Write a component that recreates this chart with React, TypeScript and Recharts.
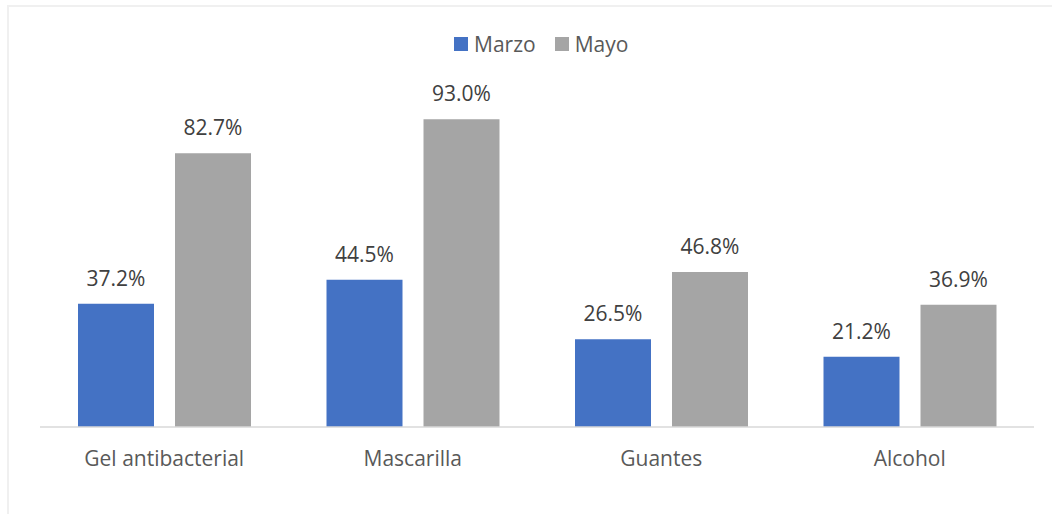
import React from 'react';
import { BarChart, Bar, XAxis, YAxis, Legend, LabelList } from 'recharts';

const categories = ['Gel antibacterial', 'Mascarilla', 'Guantes', 'Alcohol'];
const marzo = [37.2, 44.5, 26.5, 21.2];
const mayo = [82.7, 93.0, 46.8, 36.9];

const FONT = '"Open Sans", sans-serif';

const chartData = categories.map((name, i) => ({ name, marzo: marzo[i], mayo: mayo[i] }));

const formatPct = (v: any) => `${Number(v).toFixed(1)}%`;

const CustomLegend = ({ payload }: any) => (
  <div style={{ display: 'flex', alignItems: 'center', height: 28, fontFamily: FONT, fontSize: 21, color: '#595959' }}>
    {(payload || []).map((entry: any, index: number) => (
      <div key={index} style={{ display: 'flex', alignItems: 'center', marginRight: 19 }}>
        <span style={{ display: 'inline-block', width: 14, height: 14, background: entry.color, marginRight: 6 }} />
        <span>{entry.value}</span>
      </div>
    ))}
  </div>
);

const App: React.FC = () => {
  return (
    <div style={{ position: 'fixed', left: 0, top: 0, width: 1052, height: 514, overflow: 'hidden', background: '#fff' }}>
      {/* chart frame, only top and left edges are visible */}
      <div
        style={{
          position: 'absolute',
          left: 7,
          top: 5,
          width: 2000,
          height: 2000,
          borderTop: '2px solid #f0f0f0',
          borderLeft: '2px solid #f0f0f0',
        }}
      />
      <div style={{ position: 'absolute', left: 0, top: 0 }}>
        <BarChart
          width={1052}
          height={514}
          data={chartData}
          margin={{ top: 68, right: 18, left: 40, bottom: 47 }}
          barSize={76}
          barGap={21}
        >
          <XAxis
            dataKey="name"
            height={40}
            tickLine={false}
            tickSize={0}
            tickMargin={24}
            axisLine={{ stroke: '#d9d9d9', strokeWidth: 1.5 }}
            tick={{ fill: '#595959', fontSize: 21, fontFamily: FONT }}
          />
          <YAxis hide domain={[0, 100]} />
          <Legend
            verticalAlign="top"
            content={<CustomLegend />}
            wrapperStyle={{ top: 30, left: 454, width: 'auto' }}
          />
          <Bar dataKey="marzo" name="Marzo" fill="#4472C4" isAnimationActive={false}>
            <LabelList dataKey="marzo" position="top" offset={18} formatter={formatPct} fill="#404040" fontSize={21} fontFamily={FONT} />
          </Bar>
          <Bar dataKey="mayo" name="Mayo" fill="#A5A5A5" isAnimationActive={false}>
            <LabelList dataKey="mayo" position="top" offset={18} formatter={formatPct} fill="#404040" fontSize={21} fontFamily={FONT} />
          </Bar>
        </BarChart>
      </div>
    </div>
  );
};

export default App;
